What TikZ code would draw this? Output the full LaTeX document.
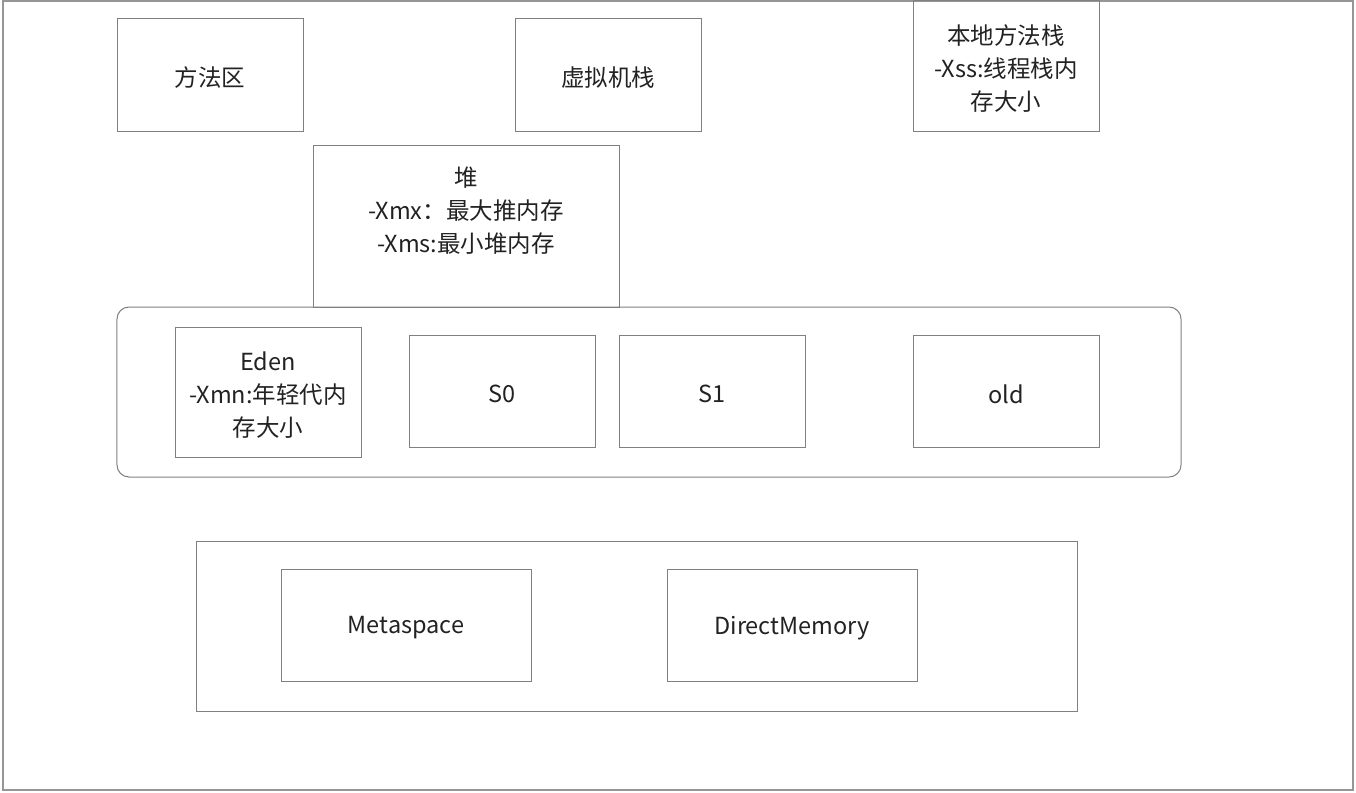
\documentclass[tikz,border=0pt]{standalone}
\usepackage{fontspec}
\setmainfont{Noto Sans CJK SC}
\definecolor{edge}{RGB}{128,128,128}
\definecolor{frame}{RGB}{150,150,150}
\definecolor{ink}{RGB}{34,34,34}
\begin{document}
\begin{tikzpicture}[x=1bp,y=-1bp,
  txt/.style={align=center, inner sep=0pt, text=ink, yshift=-3bp,
    font=\fontsize{23.5bp}{33bp}\selectfont},
  box/.style={draw=edge, line width=1bp, inner sep=0pt},
  small/.style={box, minimum width=186bp, minimum height=112bp},
  wide/.style={box, minimum width=250bp, minimum height=112bp}]
\useasboundingbox (0,0) rectangle (1356,792);
\draw[frame, line width=2bp] (3,1) rectangle (1353,790);
\node[small, label={[txt]center:方法区}] (ma) at (210,75) {};
\node[small, label={[txt]center:虚拟机栈}] (vms) at (608,75) {};
\node[box, minimum width=186bp, minimum height=130bp, label={[txt]center:本地方法栈\\-Xss:线程栈内\\存大小}] (nms) at (1006,66) {};
\node[box, minimum width=306bp, minimum height=162bp, label={[txt,yshift=-2bp]center:堆\\-Xmx：最大推内存\\-Xms:最小堆内存\\\strut}] (heap) at (466,226) {};
\node[box, rounded corners=12bp, minimum width=1064bp, minimum height=170bp] (gen) at (649,392) {};
\node[box, minimum width=186bp, minimum height=130bp, label={[txt]center:Eden\\-Xmn:年轻代内\\存大小}] (eden) at (268,392) {};
\node[small, label={[txt]center:S0}] (s0) at (502,391) {};
\node[small, label={[txt]center:S1}] (s1) at (712,391) {};
\node[small, label={[txt]center:old}] (old) at (1006,391) {};
\node[box, minimum width=880bp, minimum height=170bp] (offheap) at (637,626) {};
\node[wide, label={[txt]center:Metaspace}] (meta) at (406,625) {};
\node[wide, label={[txt]center:DirectMemory}] (dm) at (792,625) {};
\end{tikzpicture}
\end{document}
